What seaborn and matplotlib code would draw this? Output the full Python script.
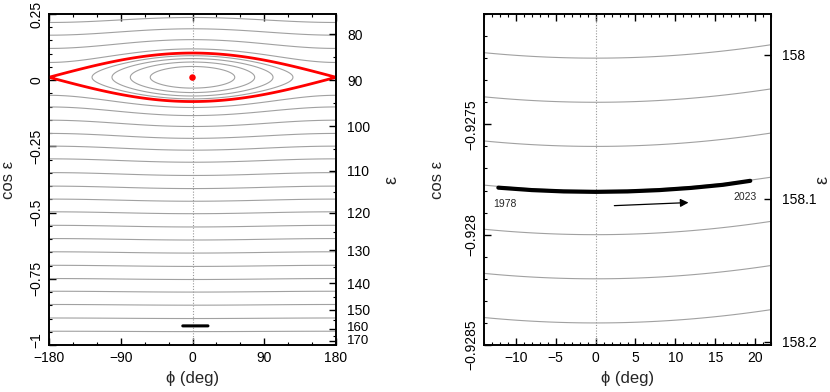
import numpy as np
import pandas as pd
import seaborn as sns
import matplotlib
matplotlib.use("Agg")
import matplotlib.pyplot as plt
from matplotlib.ticker import MultipleLocator, FixedLocator, FixedFormatter, FuncFormatter
from matplotlib.transforms import ScaledTranslation

RES_CENTER = 0.011       # cos eps of the resonance centre
RES_COUPLING = 0.0021    # separatrix half-width is 2*sqrt(coupling)

# left panel: circulating curves, given by cos eps where they reach phi = +-180
UPPER_EDGE = [0.218, 0.170, 0.120, 0.067]
LOWER_EDGE = [-0.057, -0.101, -0.151, -0.201, -0.249, -0.297, -0.349, -0.400,
              -0.449, -0.497, -0.548, -0.598, -0.648, -0.699, -0.749, -0.797,
              -0.847, -0.898, -0.948]
# librating curves inside the resonance, given by their largest |phi| (deg)
INNER_PHI_MAX = [126, 101, 78, 53]
CASSINI_PHI = [0.0]
CASSINI_COSEPS = [0.010]

# right panel: curves given by cos eps at phi = 0
ZOOM_LEVELS = [-0.9272, -0.9274, -0.9276, -0.9278, -0.9280, -0.9282, -0.9284]

# observed track 1978 -> 2023
TRACK_PHI = [-12.2, -8, -4, 0, 4, 8, 12, 16, 19.4]
TRACK_COSEPS = [-0.927787, -0.927798, -0.927804, -0.927806, -0.927804,
                -0.927798, -0.927788, -0.927774, -0.927756]
YEAR_LABELS = ["1978", "2023"]

COSEPS_TICKS_LEFT = [-1, -0.75, -0.5, -0.25, 0, 0.25]
EPS_LEFT = [80, 90, 100, 110, 120, 130, 140, 150, 160, 170]
EPS_LEFT_MINOR = [75, 85, 95, 105, 115, 125, 135, 145, 155, 165, 175]
EPS_RIGHT = [158, 158.1, 158.2]


def ham(phi_deg, x):
    return 0.5 * (x - RES_CENTER) ** 2 - RES_COUPLING * np.sqrt(1 - x ** 2) * np.cos(np.radians(phi_deg))


def stationary(phi_deg):
    xs = np.linspace(-0.1, 0.12, 44001)
    return ham(phi_deg, xs).min()


def nudge(label, dy_pt):
    label.set_transform(label.get_transform() + ScaledTranslation(0, dy_pt / 72, fig.dpi_scale_trans))


sns.set_theme(style="ticks")
plt.rcParams["font.family"] = ["Liberation Sans", "DejaVu Sans"]
plt.rcParams["axes.unicode_minus"] = True

fig = plt.figure(figsize=(8.3, 3.92), dpi=100)
axL = fig.add_axes([49 / 830, 47 / 392, 287 / 830, 331 / 392])
axR = fig.add_axes([484 / 830, 47 / 392, 287 / 830, 331 / 392])

gray = "0.63"
fmt = FuncFormatter(lambda v, p: f"{v:g}".replace("-", "\u2212"))

# ---- left panel
phi = np.linspace(-180, 180, 721)
x_up = np.linspace(RES_CENTER, 0.25, 900)
x_lo = np.linspace(-1, RES_CENTER, 3000)
x_all = np.linspace(-0.2, 0.25, 1800)

P, X = np.meshgrid(phi, x_up)
axL.contour(P, X, ham(P, X), levels=sorted(ham(180, np.array(UPPER_EDGE))),
            colors=gray, linewidths=0.8, linestyles="solid")
P, X = np.meshgrid(phi, x_lo)
axL.contour(P, X, ham(P, X), levels=sorted(ham(180, np.array(LOWER_EDGE))),
            colors=gray, linewidths=0.8, linestyles="solid")
P, X = np.meshgrid(phi, x_all)
H = ham(P, X)
axL.contour(P, X, H, levels=sorted(stationary(p) for p in INNER_PHI_MAX),
            colors=gray, linewidths=0.8, linestyles="solid")
axL.contour(P, X, H, levels=[stationary(180)], colors="red", linewidths=2.0,
            linestyles="solid", zorder=3)

axL.axvline(0, color="0.6", lw=0.8, ls=(0, (1, 1.5)), zorder=1)
track = pd.DataFrame({"phi": TRACK_PHI, "coseps": TRACK_COSEPS})
sns.lineplot(data=track, x="phi", y="coseps", ax=axL, color="black", lw=2.2,
             estimator=None, sort=False, zorder=4)
sns.scatterplot(x=CASSINI_PHI, y=CASSINI_COSEPS, ax=axL, color="red", s=22,
                edgecolor="none", zorder=5)

axL.set_xlim(-180, 180)
axL.set_ylim(-1, 0.25)
axL.xaxis.set_major_locator(FixedLocator([-180, -90, 0, 90, 180]))
axL.xaxis.set_minor_locator(MultipleLocator(30))
axL.yaxis.set_major_locator(FixedLocator(COSEPS_TICKS_LEFT))
axL.yaxis.set_minor_locator(MultipleLocator(0.05))
axL.xaxis.set_major_formatter(fmt)
axL.yaxis.set_major_formatter(fmt)

# ---- right panel
phi_z = np.linspace(-14, 22, 400)
x_z = np.linspace(-0.9286, -0.9269, 600)
P, X = np.meshgrid(phi_z, x_z)
axR.contour(P, X, ham(P, X), levels=sorted(ham(0, np.array(ZOOM_LEVELS))),
            colors=gray, linewidths=0.8, linestyles="solid")
axR.axvline(0, color="0.6", lw=0.8, ls=(0, (1, 1.5)), zorder=1)
sns.lineplot(data=track, x="phi", y="coseps", ax=axR, color="black", lw=3.0,
             estimator=None, sort=False, zorder=4)
axR.text(TRACK_PHI[0] + 0.8, -0.927861, YEAR_LABELS[0], fontsize=7.5,
         ha="center", va="center")
axR.text(TRACK_PHI[-1] - 0.7, -0.927828, YEAR_LABELS[1], fontsize=7.5,
         ha="center", va="center")
axR.annotate("", xy=(12.0, -0.927854), xytext=(2.0, -0.927869),
             arrowprops=dict(arrowstyle="-|>", color="black", lw=0.9,
                             mutation_scale=12))

axR.set_xlim(-14, 22)
axR.set_ylim(-0.9285, -0.927)
axR.xaxis.set_major_locator(MultipleLocator(5))
axR.xaxis.set_minor_locator(MultipleLocator(1))
axR.yaxis.set_major_locator(FixedLocator([-0.9285, -0.928, -0.9275]))
axR.yaxis.set_minor_locator(MultipleLocator(0.0001))
axR.xaxis.set_major_formatter(fmt)
axR.yaxis.set_major_formatter(fmt)

for ax, eps, eps_minor, lab_x in [(axL, EPS_LEFT, EPS_LEFT_MINOR, (-0.115, 1.164)),
                                  (axR, EPS_RIGHT, [], (-0.136, 1.150))]:
    ax.set_xlabel("\u03d5 (deg)", fontsize=12, labelpad=5)
    ax.set_ylabel("cos \u03b5", fontsize=12)
    ax.yaxis.set_label_coords(lab_x[0], 0.5)
    ax.tick_params(which="both", direction="in", top=True, right=False,
                   labelsize=10, colors="black", pad=4)
    ax.tick_params(which="major", length=5, width=1)
    ax.tick_params(which="minor", length=2.5, width=0.8)
    ax.tick_params(axis="y", labelrotation=90)
    for t in ax.get_yticklabels():
        t.set_va("center")
    for sp in ax.spines.values():
        sp.set_color("black")
        sp.set_linewidth(1.2)

    tw = ax.twinx()
    tw.set_ylim(ax.get_ylim())
    tw.yaxis.set_major_locator(FixedLocator(np.cos(np.radians(eps))))
    tw.yaxis.set_major_formatter(FixedFormatter([f"{e:g}" for e in eps]))
    if eps_minor:
        tw.yaxis.set_minor_locator(FixedLocator(np.cos(np.radians(eps_minor))))
    tw.tick_params(which="both", direction="in", labelsize=10, colors="black", pad=8)
    tw.tick_params(which="major", length=5, width=1)
    tw.tick_params(which="minor", length=2.5, width=0.8)
    tw.set_ylabel("\u03b5", fontsize=13)
    tw.yaxis.set_label_coords(lab_x[1], 0.5)
    for sp in tw.spines.values():
        sp.set_color("black")
        sp.set_linewidth(1.2)
    if ax is axL:
        fig.canvas.draw()
        # the two lowest angle labels sit a little above their ticks
        labs = tw.get_yticklabels()
        nudge(labs[-2], 2)
        nudge(labs[-1], 1)
        labs[-1].set_fontsize(9.5)
        labs[-2].set_fontsize(9.5)
        # lowest cos eps label is lifted clear of the corner
        for t in ax.get_yticklabels():
            if t.get_text() == "\u22121":
                nudge(t, 3.5)

fig.savefig("out.png", dpi=100)
